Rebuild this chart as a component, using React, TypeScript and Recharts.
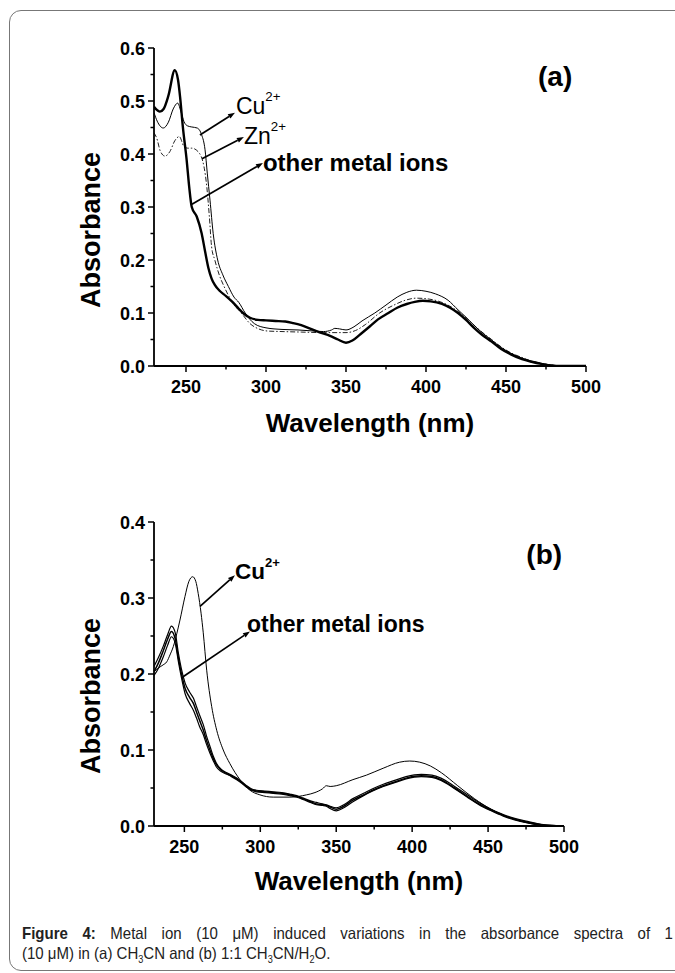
import React from 'react';
import { LineChart, Line, XAxis, YAxis, ReferenceLine, ReferenceDot } from 'recharts';

// ---- (a) CH3CN ----
const topOtherNm = [230, 233.7, 236, 239, 243, 245, 246.3, 248, 250.4, 252, 253.6, 256.7, 259.8, 262, 264, 266, 268, 271, 275, 279, 283, 286, 290, 295, 300, 306, 312, 317, 322, 328, 334, 340, 345, 350, 354, 359, 365, 370, 376.5, 382, 388, 393, 398, 403, 410, 415, 420, 425, 430, 435, 441, 447, 453, 460, 466, 472, 478, 485, 492, 500];
const topOtherAbs = [0.489, 0.48, 0.485, 0.51, 0.558, 0.54, 0.508, 0.452, 0.389, 0.338, 0.3, 0.282, 0.25, 0.215, 0.185, 0.165, 0.153, 0.142, 0.132, 0.121, 0.108, 0.099, 0.091, 0.087, 0.086, 0.085, 0.084, 0.081, 0.077, 0.07, 0.063, 0.057, 0.05, 0.044, 0.048, 0.06, 0.075, 0.088, 0.1, 0.11, 0.117, 0.121, 0.123, 0.122, 0.117, 0.11, 0.1, 0.087, 0.072, 0.059, 0.046, 0.032, 0.022, 0.013, 0.008, 0.004, 0.001, 0, 0, 0];

const topCuNm = [230, 232, 235.8, 239, 242, 244.8, 247, 248.75, 251, 253.6, 257, 259.8, 261.9, 263.3, 265, 267, 269.8, 273, 276.5, 280, 283, 287, 292.7, 300, 310, 320, 330, 336, 341, 343, 346, 350, 355, 360, 368, 375, 382, 388, 394, 400, 406, 413.8, 420, 425, 430, 435, 441, 447, 453, 460, 466, 472, 478, 485, 500];
const topCuAbs = [0.478, 0.462, 0.449, 0.46, 0.485, 0.496, 0.478, 0.461, 0.453, 0.451, 0.449, 0.436, 0.408, 0.364, 0.313, 0.25, 0.2, 0.172, 0.15, 0.13, 0.12, 0.1, 0.08, 0.072, 0.069, 0.068, 0.066, 0.065, 0.068, 0.071, 0.07, 0.068, 0.074, 0.085, 0.1, 0.115, 0.13, 0.139, 0.143, 0.141, 0.136, 0.124, 0.106, 0.092, 0.077, 0.063, 0.049, 0.035, 0.024, 0.015, 0.009, 0.005, 0.002, 0, 0];

const topZnNm = [230, 231.7, 234, 236.9, 240, 243, 245.8, 248.75, 251, 253.6, 257.7, 261.25, 263, 264.6, 266, 268, 271, 273.8, 279, 284.6, 290, 295.4, 301, 310, 322, 336, 345, 350, 356, 362, 371, 380, 387, 394, 400, 407, 413, 420, 425, 430, 435, 441, 447, 453, 460, 466, 472, 478, 485, 500];
const topZnAbs = [0.44, 0.43, 0.405, 0.396, 0.405, 0.425, 0.433, 0.414, 0.411, 0.411, 0.404, 0.376, 0.338, 0.282, 0.225, 0.2, 0.17, 0.15, 0.12, 0.1, 0.08, 0.07, 0.066, 0.065, 0.064, 0.063, 0.063, 0.063, 0.067, 0.078, 0.1, 0.115, 0.124, 0.128, 0.127, 0.123, 0.116, 0.103, 0.091, 0.077, 0.064, 0.05, 0.036, 0.025, 0.016, 0.009, 0.005, 0.002, 0, 0];

// ---- (b) 1:1 CH3CN/H2O ----
const botCuNm = [230, 233, 236, 238.4, 240.5, 242.7, 245, 247.1, 250.4, 253, 255.5, 257.5, 259.1, 261, 262.4, 264.7, 268, 271.3, 275.6, 280, 286.6, 293.2, 299.7, 308.5, 319.5, 330.5, 336, 341, 343.5, 346, 350, 361, 370, 380.9, 391.8, 398.4, 405, 412, 419.3, 430, 441, 452, 463, 474, 485, 492, 500];
const botCuAbs = [0.203, 0.208, 0.212, 0.216, 0.225, 0.236, 0.253, 0.271, 0.302, 0.322, 0.328, 0.322, 0.306, 0.28, 0.255, 0.205, 0.157, 0.126, 0.1, 0.082, 0.061, 0.047, 0.041, 0.038, 0.038, 0.041, 0.044, 0.049, 0.053, 0.052, 0.053, 0.061, 0.067, 0.076, 0.084, 0.0855, 0.084, 0.079, 0.07, 0.053, 0.036, 0.022, 0.012, 0.005, 0.001, 0, 0];

const botOtherNm = [230, 233, 236, 239, 241.5, 244, 246, 248, 250.5, 253.5, 256, 258, 260, 262.5, 264.5, 267, 269, 271, 274, 278, 281, 284.5, 288, 291, 294, 297.5, 303, 308.5, 314, 319.5, 324, 328, 333, 337, 341, 343.5, 346, 350, 355, 361, 368, 374, 381, 388.5, 396, 406, 413, 419, 428, 437, 444, 452, 460, 467.5, 476, 485, 492, 500];
const botOtherAbsA = [0.21, 0.222, 0.236, 0.252, 0.263, 0.254, 0.228, 0.207, 0.188, 0.176, 0.168, 0.157, 0.146, 0.133, 0.119, 0.104, 0.092, 0.083, 0.075, 0.07, 0.067, 0.063, 0.058, 0.053, 0.049, 0.047, 0.046, 0.045, 0.044, 0.042, 0.04, 0.037, 0.033, 0.031, 0.029, 0.028, 0.026, 0.024, 0.028, 0.036, 0.043, 0.049, 0.055, 0.06, 0.065, 0.068, 0.067, 0.063, 0.052, 0.04, 0.031, 0.022, 0.015, 0.01, 0.006, 0.002, 0.001, 0];
const botOtherAbsB = [0.203, 0.215, 0.23, 0.246, 0.256, 0.246, 0.222, 0.201, 0.181, 0.169, 0.161, 0.15, 0.139, 0.126, 0.113, 0.099, 0.089, 0.081, 0.074, 0.069, 0.066, 0.062, 0.057, 0.052, 0.048, 0.046, 0.045, 0.044, 0.043, 0.041, 0.039, 0.036, 0.032, 0.029, 0.028, 0.027, 0.025, 0.022, 0.026, 0.034, 0.041, 0.047, 0.053, 0.058, 0.063, 0.066, 0.065, 0.061, 0.05, 0.038, 0.029, 0.021, 0.014, 0.009, 0.005, 0.002, 0.0005, 0];
const botOtherAbsC = [0.198, 0.208, 0.222, 0.238, 0.249, 0.24, 0.217, 0.196, 0.174, 0.161, 0.152, 0.142, 0.131, 0.12, 0.108, 0.095, 0.086, 0.078, 0.072, 0.068, 0.065, 0.061, 0.056, 0.051, 0.047, 0.045, 0.044, 0.043, 0.042, 0.04, 0.038, 0.035, 0.031, 0.028, 0.027, 0.026, 0.023, 0.02, 0.024, 0.032, 0.04, 0.046, 0.052, 0.057, 0.062, 0.065, 0.064, 0.06, 0.049, 0.037, 0.028, 0.02, 0.013, 0.008, 0.004, 0.001, 0, 0];

// ticks
const xMajor = [250, 300, 350, 400, 450, 500];
const xMinor = [275, 325, 375, 425, 475];
const yMajorTop = [0, 0.1, 0.2, 0.3, 0.4, 0.5, 0.6];
const yMinorTop = [0.05, 0.15, 0.25, 0.35, 0.45, 0.55];
const yMajorBot = [0, 0.1, 0.2, 0.3, 0.4];
const yMinorBot = [0.05, 0.15, 0.25, 0.35];

const toPoints = (xs: number[], ys: number[]) => xs.map((x, i) => ({ x, y: ys[i] }));
const merge = (a: number[], b: number[]) => [...a, ...b].sort((p, q) => p - q);

const makeXTick = (props: any) => {
  const { x, y, payload } = props;
  const major = xMajor.includes(payload.value);
  return (
    <g>
      <line x1={x} y1={y} x2={x} y2={y + (major ? 6 : 3.5)} stroke="#000" strokeWidth={1.5} />
      {major && (
        <text x={x} y={y + 27} textAnchor="middle" fontSize={18} fontWeight="bold" fill="#000">
          {payload.value}
        </text>
      )}
    </g>
  );
};

const makeYTick = (majors: number[]) => (props: any) => {
  const { x, y, payload } = props;
  const major = majors.includes(payload.value);
  return (
    <g>
      <line x1={x} y1={y} x2={x - (major ? 6 : 3.5)} y2={y} stroke="#000" strokeWidth={1.5} />
      {major && (
        <text x={x - 9} y={y + 6.5} textAnchor="end" fontSize={18} fontWeight="bold" fill="#000">
          {payload.value.toFixed(1)}
        </text>
      )}
    </g>
  );
};

const Arrow = (p: any) => {
  const { x1, y1, x2, y2, text, sup, bold, size, dx, dy } = p;
  const a = Math.atan2(y2 - y1, x2 - x1);
  const L = 7;
  const W = 2.6;
  const bx = x2 - L * Math.cos(a);
  const by = y2 - L * Math.sin(a);
  const pts = `${x2},${y2} ${bx - W * Math.sin(a)},${by + W * Math.cos(a)} ${bx + W * Math.sin(a)},${by - W * Math.cos(a)}`;
  return (
    <g>
      <line x1={x1} y1={y1} x2={bx} y2={by} stroke="#000" strokeWidth={1.7} />
      <polygon points={pts} fill="#000" />
      <text x={x2 + dx} y={y2 + dy} fontSize={size} fontWeight={bold ? 'bold' : 'normal'} fill="#000">
        {text}
        {sup && (
          <tspan dy={-size * 0.56} fontSize={size * 0.58}>
            {sup}
          </tspan>
        )}
      </text>
    </g>
  );
};

const topNotes = [
  { from: [258.7, 0.436], to: [280.6, 0.478], text: 'Cu', sup: '2+', bold: false, size: 23, dx: 1, dy: 1 },
  { from: [260, 0.391], to: [286.2, 0.432], text: 'Zn', sup: '2+', bold: false, size: 23, dx: 0, dy: 7 },
  { from: [253.7, 0.305], to: [298.1, 0.383], text: 'other metal ions', sup: '', bold: true, size: 24, dx: 0, dy: 8 },
];
const botNotes = [
  { from: [260.3, 0.289], to: [283.3, 0.33], text: 'Cu', sup: '2+', bold: true, size: 22.5, dx: 0, dy: 4 },
  { from: [248.9, 0.196], to: [293.2, 0.256], text: 'other metal ions', sup: '', bold: true, size: 23, dx: -3, dy: 1 },
];

const renderNotes = (notes: typeof topNotes) =>
  notes.map((n, i) => (
    <ReferenceLine
      key={`note-${i}`}
      segment={[{ x: n.from[0], y: n.from[1] }, { x: n.to[0], y: n.to[1] }]}
      shape={(p: any) => <Arrow {...p} text={n.text} sup={n.sup} bold={n.bold} size={n.size} dx={n.dx} dy={n.dy} />}
    />
  ));

const PanelTag = ({ cx, cy, tag }: any) => (
  <text x={cx} y={cy} fontSize={28} fontWeight="bold" fill="#000">
    {tag}
  </text>
);

const axisLine = { stroke: '#000', strokeWidth: 1.8 };
const subStyle: React.CSSProperties = { fontSize: 10, lineHeight: 0 };

const App: React.FC = () => {
  return (
    <div
      style={{
        position: 'absolute',
        left: 0,
        top: 0,
        width: 675,
        height: 973,
        overflow: 'hidden',
        background: '#fff',
        fontFamily: "'Liberation Sans', Arial, sans-serif",
      }}
    >
      <div
        style={{
          position: 'absolute',
          left: 9,
          top: 10,
          width: 720,
          height: 961,
          border: '1px solid #777',
          borderRadius: 12,
          boxSizing: 'border-box',
        }}
      />

      {/* (a) */}
      <div style={{ position: 'absolute', left: 0, top: 0 }}>
        <LineChart width={675} height={460} margin={{ top: 48, right: 89, bottom: 64, left: 26 }}>
          <XAxis
            type="number"
            dataKey="x"
            domain={[230, 500]}
            ticks={merge(xMajor, xMinor)}
            interval={0}
            allowDataOverflow
            tickSize={0}
            tickMargin={0}
            tickLine={false}
            axisLine={axisLine}
            tick={makeXTick}
            height={30}
            label={{ value: 'Wavelength (nm)', position: 'bottom', offset: 18, fontSize: 26, fontWeight: 'bold', fill: '#000' }}
          />
          <YAxis
            type="number"
            domain={[0, 0.6]}
            ticks={merge(yMajorTop, yMinorTop)}
            interval={0}
            allowDataOverflow
            tickSize={0}
            tickMargin={0}
            tickLine={false}
            axisLine={axisLine}
            tick={makeYTick(yMajorTop)}
            width={128}
            label={{ value: 'Absorbance', angle: -90, position: 'center', dy: 23, fontSize: 27, fontWeight: 'bold', fill: '#000' }}
          />
          <Line data={toPoints(topZnNm, topZnAbs)} dataKey="y" type="monotone" dot={false} stroke="#222" strokeWidth={1} strokeDasharray="5 2 1.5 2" isAnimationActive={false} />
          <Line data={toPoints(topCuNm, topCuAbs)} dataKey="y" type="monotone" dot={false} stroke="#000" strokeWidth={1} isAnimationActive={false} />
          <Line data={toPoints(topOtherNm, topOtherAbs)} dataKey="y" type="monotone" dot={false} stroke="#000" strokeWidth={2.4} isAnimationActive={false} />
          {renderNotes(topNotes)}
          <ReferenceDot x={470} y={0.529} shape={(p: any) => <PanelTag {...p} tag="(a)" />} />
        </LineChart>
      </div>

      {/* (b) */}
      <div style={{ position: 'absolute', left: 0, top: 470 }}>
        <LineChart width={675} height={450} margin={{ top: 52, right: 111, bottom: 64, left: 26 }}>
          <XAxis
            type="number"
            dataKey="x"
            domain={[230, 500]}
            ticks={merge(xMajor, xMinor)}
            interval={0}
            allowDataOverflow
            tickSize={0}
            tickMargin={0}
            tickLine={false}
            axisLine={axisLine}
            tick={makeXTick}
            height={30}
            label={{ value: 'Wavelength (nm)', position: 'bottom', offset: 16, fontSize: 26, fontWeight: 'bold', fill: '#000' }}
          />
          <YAxis
            type="number"
            domain={[0, 0.4]}
            ticks={merge(yMajorBot, yMinorBot)}
            interval={0}
            allowDataOverflow
            tickSize={0}
            tickMargin={0}
            tickLine={false}
            axisLine={axisLine}
            tick={makeYTick(yMajorBot)}
            width={128}
            label={{ value: 'Absorbance', angle: -90, position: 'center', dy: 22, fontSize: 27, fontWeight: 'bold', fill: '#000' }}
          />
          <Line data={toPoints(botCuNm, botCuAbs)} dataKey="y" type="monotone" dot={false} stroke="#000" strokeWidth={1} isAnimationActive={false} />
          <Line data={toPoints(botOtherNm, botOtherAbsA)} dataKey="y" type="monotone" dot={false} stroke="#000" strokeWidth={1.2} isAnimationActive={false} />
          <Line data={toPoints(botOtherNm, botOtherAbsB)} dataKey="y" type="monotone" dot={false} stroke="#000" strokeWidth={1.5} isAnimationActive={false} />
          <Line data={toPoints(botOtherNm, botOtherAbsC)} dataKey="y" type="monotone" dot={false} stroke="#000" strokeWidth={1.2} isAnimationActive={false} />
          {renderNotes(botNotes)}
          <ReferenceDot x={475.2} y={0.345} shape={(p: any) => <PanelTag {...p} tag="(b)" />} />
        </LineChart>
      </div>

      {/* caption, a condensed look via horizontal scaling */}
      <div
        style={{
          position: 'absolute',
          left: 22,
          top: 923,
          width: 651 / 0.91,
          transform: 'scaleX(0.91)',
          transformOrigin: 'left top',
          fontSize: 16.5,
          lineHeight: '20px',
          color: '#222',
        }}
      >
        <div style={{ textAlign: 'justify', textAlignLast: 'justify' as any, whiteSpace: 'nowrap' as any }}>
          <b>Figure 4:</b> Metal ion (10 μM) induced variations in the absorbance spectra of 1
        </div>
        <div>
          (10 μM) in (a) CH<sub style={subStyle}>3</sub>CN and (b) 1:1 CH<sub style={subStyle}>3</sub>CN/H
          <sub style={subStyle}>2</sub>O.
        </div>
      </div>
    </div>
  );
};

export default App;
